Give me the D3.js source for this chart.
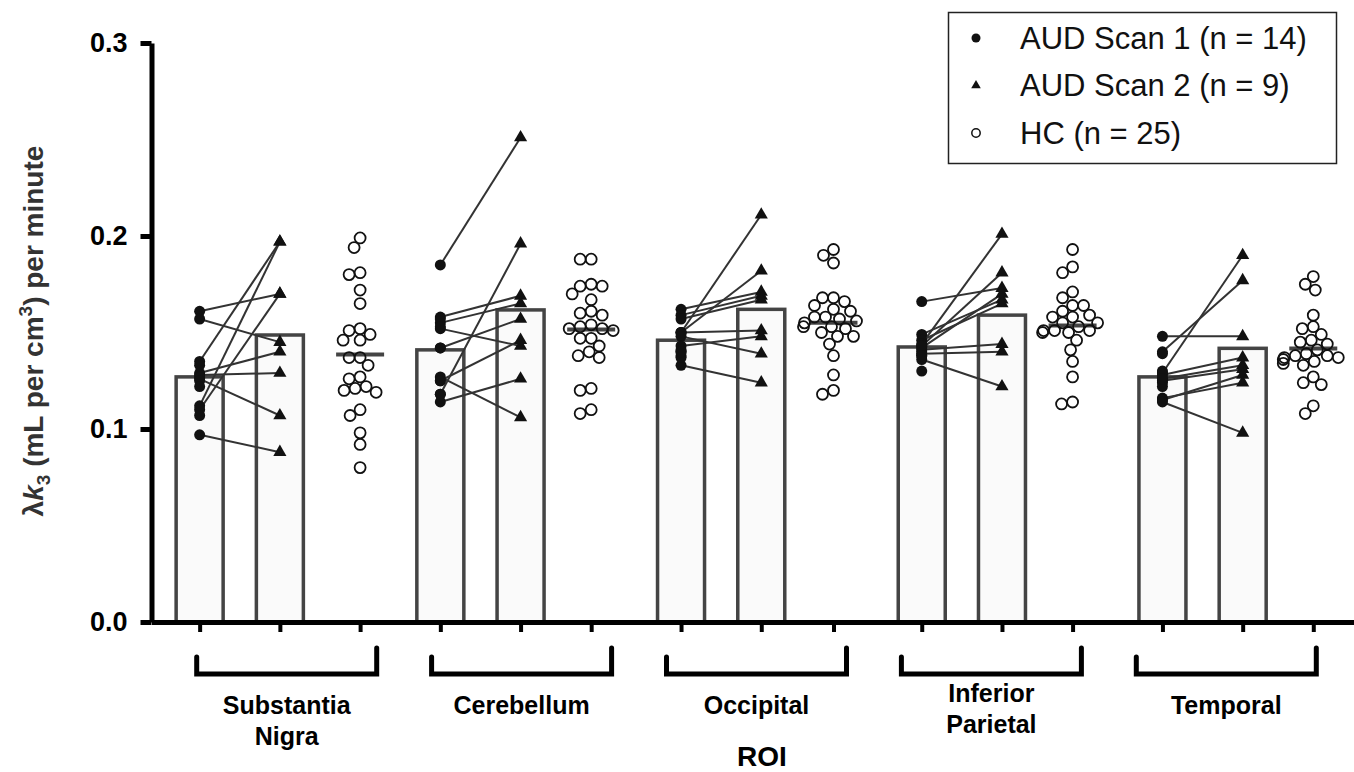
<!DOCTYPE html>
<html>
<head>
<meta charset="utf-8">
<script src="https://cdn.jsdelivr.net/npm/d3@7"></script>
<style>
  body { margin: 0; background: #fff; }
  svg { display: block; }
  text { font-family: "Liberation Sans", Arial, sans-serif; }
</style>
</head>
<body>
<div id="chart"></div>
<script>
(function() {
  'use strict';

  // ROI groups, label lines as printed under each bracket
  var roiLabels = [['Substantia', 'Nigra'], ['Cerebellum'], ['Occipital'], ['Inferior', 'Parietal'], ['Temporal']];

  // AUD scan 1 values that have a matching scan 2 (same order as scan2Values)
  var scan1Paired = [
    [0.161, 0.157, 0.135, 0.129, 0.128, 0.126, 0.112, 0.110, 0.097],
    [0.185, 0.158, 0.155, 0.152, 0.142, 0.127, 0.125, 0.118, 0.114],
    [0.162, 0.159, 0.157, 0.150, 0.150, 0.150, 0.148, 0.143, 0.133],
    [0.166, 0.149, 0.146, 0.144, 0.143, 0.142, 0.141, 0.139, 0.136],
    [0.148, 0.140, 0.129, 0.128, 0.126, 0.125, 0.116, 0.115, 0.114]
  ];
  // AUD scan 1 values without a second scan
  var scan1Only = [
    [0.133, 0.127, 0.107, 0.125, 0.122],
    [0.157, 0.153, 0.142, 0.125, 0.118],
    [0.140, 0.138, 0.141, 0.137, 0.140],
    [0.130, 0.138, 0.140, 0.143, 0.138],
    [0.139, 0.124, 0.122, 0.130, 0.126]
  ];
  var scan2Values = [
    [0.170, 0.145, 0.197, 0.140, 0.129, 0.107, 0.197, 0.170, 0.088],
    [0.251, 0.169, 0.165, 0.143, 0.157, 0.106, 0.146, 0.196, 0.126],
    [0.171, 0.169, 0.167, 0.211, 0.182, 0.151, 0.139, 0.148, 0.124],
    [0.173, 0.167, 0.165, 0.201, 0.181, 0.170, 0.144, 0.140, 0.122],
    [0.148, 0.177, 0.190, 0.137, 0.133, 0.131, 0.124, 0.128, 0.098]
  ];
  var hcValues = [
    [0.199, 0.194, 0.181, 0.180, 0.172, 0.165, 0.152, 0.151, 0.149, 0.146, 0.146, 0.137, 0.137,
     0.133, 0.127, 0.126, 0.122, 0.121, 0.120, 0.119, 0.110, 0.107, 0.098, 0.092, 0.080],
    [0.188, 0.188, 0.175, 0.174, 0.174, 0.170, 0.167, 0.161, 0.160, 0.159, 0.154, 0.153, 0.152,
     0.152, 0.151, 0.147, 0.147, 0.143, 0.140, 0.138, 0.137, 0.121, 0.120, 0.110, 0.108],
    [0.193, 0.190, 0.186, 0.168, 0.168, 0.166, 0.164, 0.162, 0.161, 0.158, 0.158, 0.157, 0.156,
     0.155, 0.153, 0.153, 0.152, 0.150, 0.148, 0.148, 0.144, 0.138, 0.128, 0.120, 0.118],
    [0.193, 0.184, 0.181, 0.171, 0.168, 0.164, 0.164, 0.161, 0.159, 0.158, 0.158, 0.155, 0.155,
     0.153, 0.151, 0.151, 0.151, 0.150, 0.150, 0.146, 0.141, 0.135, 0.127, 0.114, 0.113],
    [0.179, 0.175, 0.172, 0.159, 0.153, 0.152, 0.149, 0.146, 0.145, 0.144, 0.141, 0.139, 0.138,
     0.138, 0.137, 0.137, 0.136, 0.135, 0.134, 0.133, 0.127, 0.124, 0.123, 0.112, 0.108]
  ];
  var scan1Mean = [0.127, 0.141, 0.146, 0.1425, 0.127];
  var scan2Mean = [0.1487, 0.1617, 0.162, 0.159, 0.1418];
  var hcMean = [0.1386, 0.1515, 0.155, 0.1536, 0.1417];

  var yTicks = [0, 0.1, 0.2, 0.3];
  var legendLabels = ['AUD Scan 1 (n = 14)', 'AUD Scan 2 (n = 9)', 'HC (n = 25)'];

  // column slots inside a group: scan 1, scan 2, HC
  var hcSlot = [2.0, 1.88, 1.9, 1.88, 1.88];
  var group_step = 3;
  var bar_width = 47;

  var svg_width = 1354;
  var svg_height = 772;

  var svg = d3.select('#chart').append('svg')
    .attr('width', svg_width)
    .attr('height', svg_height);

  var y = d3.scaleLinear().domain([0, 0.3]).range([622, 43]);
  var x = d3.scaleLinear().domain([-0.6, 14.4]).range([151.5, 1355]);
  var bracketX = d3.scaleLinear().domain([0, 4]).range([286.7, 1226.3]);

  function colX(i, slot) {
    return x(i * group_step + slot);
  }

  // bars
  var barData = [];
  scan1Mean.forEach(function(m, i) { barData.push({ i: i, slot: 0, v: m }); });
  scan2Mean.forEach(function(m, i) { barData.push({ i: i, slot: 1, v: m }); });

  svg.append('g')
    .selectAll('rect')
    .data(barData)
    .enter()
    .append('rect')
    .attr('x', function(d) { return colX(d.i, d.slot) - bar_width / 2; })
    .attr('y', function(d) { return y(d.v); })
    .attr('width', bar_width)
    .attr('height', function(d) { return y(0) - y(d.v); })
    .style('fill', '#fafafa')
    .style('stroke', '#444')
    .style('stroke-width', 3.5);

  // HC mean lines
  svg.append('g')
    .selectAll('line')
    .data(hcMean)
    .enter()
    .append('line')
    .attr('x1', function(d, i) { return colX(i, hcSlot[i]) - 24; })
    .attr('x2', function(d, i) { return colX(i, hcSlot[i]) + 24; })
    .attr('y1', function(d) { return y(d); })
    .attr('y2', function(d) { return y(d); })
    .style('stroke', '#444')
    .style('stroke-width', 4);

  // paired lines
  var pairs = [];
  scan1Paired.forEach(function(arr, i) {
    arr.forEach(function(v, k) { pairs.push({ i: i, a: v, b: scan2Values[i][k] }); });
  });

  svg.append('g')
    .selectAll('line')
    .data(pairs)
    .enter()
    .append('line')
    .attr('x1', function(d) { return colX(d.i, 0); })
    .attr('x2', function(d) { return colX(d.i, 1); })
    .attr('y1', function(d) { return y(d.a); })
    .attr('y2', function(d) { return y(d.b); })
    .style('stroke', '#333')
    .style('stroke-width', 2);

  // scan 1 dots
  var s1 = [];
  scan1Paired.forEach(function(arr, i) {
    arr.concat(scan1Only[i]).forEach(function(v) { s1.push({ i: i, v: v }); });
  });
  svg.append('g')
    .selectAll('circle')
    .data(s1)
    .enter()
    .append('circle')
    .attr('cx', function(d) { return colX(d.i, 0); })
    .attr('cy', function(d) { return y(d.v); })
    .attr('r', 5.5)
    .style('fill', '#111');

  // scan 2 triangles
  var s2 = [];
  scan2Values.forEach(function(arr, i) {
    arr.forEach(function(v) { s2.push({ i: i, v: v }); });
  });
  var tri = d3.symbol().type(d3.symbolTriangle).size(75);
  svg.append('g')
    .selectAll('path')
    .data(s2)
    .enter()
    .append('path')
    .attr('d', tri)
    .attr('transform', function(d) {
      return 'translate(' + colX(d.i, 1) + ',' + y(d.v) + ')';
    })
    .style('fill', '#111');

  // HC open circles, simple dodge so they do not stack
  var hc = [];
  hcValues.forEach(function(arr, i) {
    var cx = colX(i, hcSlot[i]);
    var placed = [];
    arr.slice().sort(d3.descending).forEach(function(v) {
      var cy = y(v);
      var dx = 0;
      for (var s = 0; s < 60; s++) {
        dx = (s % 2 === 0 ? 1 : -1) * Math.ceil(s / 2);
        var ok = placed.every(function(p) {
          var ddx = p.x - (cx + dx), ddy = p.y - cy;
          return ddx * ddx + ddy * ddy >= 11 * 11;
        });
        if (ok) break;
      }
      placed.push({ x: cx + dx, y: cy });
    });
    hc = hc.concat(placed);
  });
  svg.append('g')
    .selectAll('circle')
    .data(hc)
    .enter()
    .append('circle')
    .attr('cx', function(d) { return d.x; })
    .attr('cy', function(d) { return d.y; })
    .attr('r', 5.5)
    .style('fill', 'none')
    .style('stroke', '#111')
    .style('stroke-width', 1.8);

  // axes
  var cols = [];
  roiLabels.forEach(function(l, i) {
    cols.push(i * group_step, i * group_step + 1, i * group_step + hcSlot[i]);
  });

  var xAxis = svg.append('g')
    .attr('transform', 'translate(0,' + y(0) + ')')
    .call(d3.axisBottom(x).tickValues(cols).tickSize(10).tickSizeOuter(0).tickFormat(''));
  xAxis.select('.domain').style('stroke', '#000').style('stroke-width', 5);
  xAxis.selectAll('.tick line').style('stroke', '#000').style('stroke-width', 4);

  var yAxis = svg.append('g')
    .attr('transform', 'translate(' + x(-0.6) + ',0)')
    .call(d3.axisLeft(y).tickValues(yTicks).tickSize(11).tickSizeOuter(0).tickPadding(13)
      .tickFormat(d3.format('.1f')));
  yAxis.select('.domain').style('stroke', '#000').style('stroke-width', 5);
  yAxis.selectAll('.tick line').style('stroke', '#000').style('stroke-width', 5);
  yAxis.selectAll('.tick text')
    .style('font-family', '"Liberation Sans", Arial, sans-serif')
    .style('font-size', '27px')
    .style('font-weight', 'bold')
    .style('fill', '#000');

  // brackets under each ROI
  svg.append('g')
    .selectAll('path')
    .data(roiLabels)
    .enter()
    .append('path')
    .attr('d', function(d, i) {
      var c = bracketX(i);
      return 'M' + (c - 90) + ',657V674H' + (c + 90) + 'V648';
    })
    .style('fill', 'none')
    .style('stroke', '#000')
    .style('stroke-width', 5)
    .style('stroke-linecap', 'round');

  var labelTop = [714, 714, 714, 702, 714];
  var lbl = svg.append('g')
    .selectAll('text')
    .data(roiLabels)
    .enter()
    .append('text')
    .attr('text-anchor', 'middle')
    .style('font-size', '25px')
    .style('font-weight', 'bold');
  lbl.each(function(d, i) {
    var t = d3.select(this);
    d.forEach(function(line, k) {
      t.append('tspan')
        .attr('x', bracketX(i))
        .attr('y', labelTop[i] + k * 31)
        .text(line);
    });
  });

  svg.append('text')
    .attr('x', 762)
    .attr('y', 766)
    .attr('text-anchor', 'middle')
    .style('font-size', '28px')
    .style('font-weight', 'bold')
    .text('ROI');

  // y axis title
  var yt = svg.append('text')
    .attr('transform', 'translate(43,' + 331 + ') rotate(-90)')
    .attr('text-anchor', 'middle')
    .style('font-size', '28px')
    .style('font-weight', 'bold')
    .style('fill', '#333');
  yt.append('tspan').text('\u03bb');
  yt.append('tspan').style('font-style', 'italic').text('k');
  yt.append('tspan').attr('dy', 7).style('font-size', '19px').text('3');
  yt.append('tspan').attr('dy', -7).text(' (mL per cm');
  yt.append('tspan').attr('dy', -11).style('font-size', '19px').text('3');
  yt.append('tspan').attr('dy', 11).text(') per minute');

  // legend
  var legend = svg.append('g');
  legend.append('rect')
    .attr('x', 948.5)
    .attr('y', 12.5)
    .attr('width', 388)
    .attr('height', 151)
    .style('fill', '#fff')
    .style('stroke', '#222')
    .style('stroke-width', 1.5);

  var rowY = d3.scalePoint().domain(legendLabels).range([38, 133]);
  var row = legend.selectAll('g.row')
    .data(legendLabels)
    .enter()
    .append('g')
    .attr('class', 'row')
    .attr('transform', function(d) { return 'translate(0,' + rowY(d) + ')'; });

  row.append('text')
    .attr('x', 1020)
    .attr('dy', '0.35em')
    .style('font-size', '31px')
    .style('fill', '#111')
    .text(function(d) { return d; });

  row.filter(function(d, i) { return i === 0; })
    .append('circle').attr('cx', 976).attr('r', 4.5).style('fill', '#111');
  row.filter(function(d, i) { return i === 1; })
    .append('path').attr('d', d3.symbol().type(d3.symbolTriangle).size(40))
    .attr('transform', 'translate(976,0)').style('fill', '#111');
  row.filter(function(d, i) { return i === 2; })
    .append('circle').attr('cx', 976).attr('r', 4.2)
    .style('fill', 'none').style('stroke', '#111').style('stroke-width', 1.5);
})();
</script>
</body>
</html>
